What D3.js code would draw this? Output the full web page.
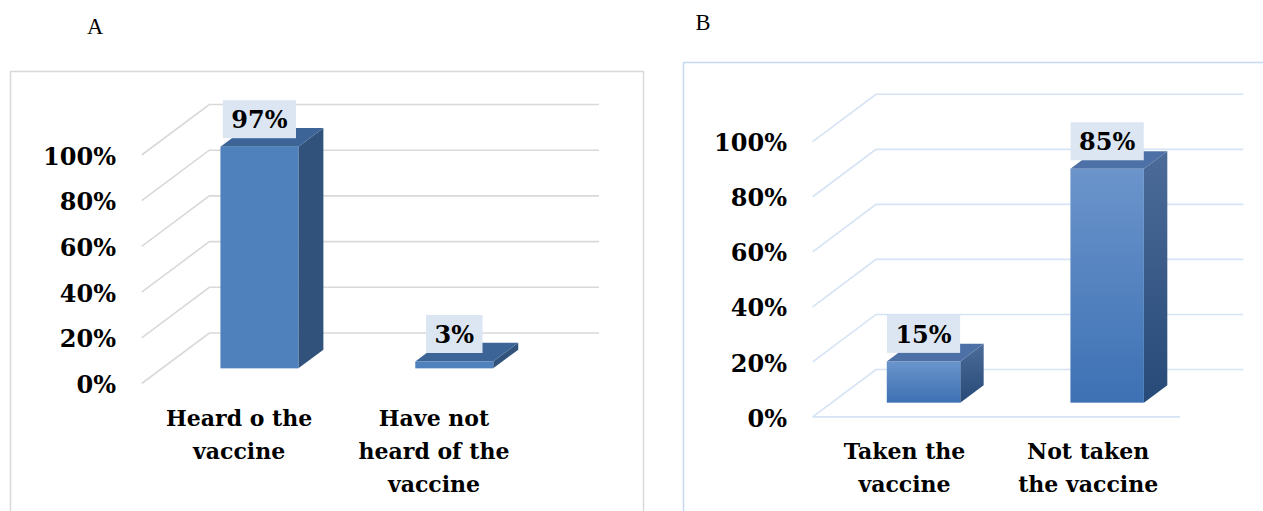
<!DOCTYPE html>
<html>
<head>
<meta charset="utf-8">
<script src="https://cdn.jsdelivr.net/npm/d3@7/dist/d3.min.js"></script>
<style>
  html, body { margin: 0; padding: 0; background: #ffffff; }
  svg { display: block; }
  .tick text, .val, .cat { font-family: "DejaVu Serif", serif; font-weight: bold; fill: #000; }
  .ttl { font-family: "Liberation Serif", serif; fill: #000; }
</style>
</head>
<body>
<svg id="chart" width="1263" height="511"></svg>
<script>
// Percent scale shared by both panels
const tickValues = [0, 20, 40, 60, 80, 100];

// Panel A: awareness of the vaccine
const titleA = "A";
const categoriesA = [["Heard o the", "vaccine"], ["Have not", "heard of the", "vaccine"]];
const valuesA = [97, 3];

// Panel B: vaccine uptake
const titleB = "B";
const categoriesB = [["Taken the", "vaccine"], ["Not taken", "the vaccine"]];
const valuesB = [15, 85];

const svg = d3.select("#chart");
const defs = svg.append("defs");

// Gradients for the shaded bars of panel B
function vGrad(id, top, bottom) {
  const g = defs.append("linearGradient").attr("id", id)
    .attr("x1", 0).attr("y1", 0).attr("x2", 0).attr("y2", 1);
  g.append("stop").attr("offset", "0%").attr("stop-color", top);
  g.append("stop").attr("offset", "100%").attr("stop-color", bottom);
}
vGrad("frontB", "#6b94cb", "#3d71b4");
vGrad("sideB", "#4c6b98", "#274a78");

function drawPanel(cfg) {
  const g = svg.append("g");

  // panel frame
  g.append("rect")
    .attr("x", cfg.frame[0]).attr("y", cfg.frame[1])
    .attr("width", cfg.frame[2]).attr("height", cfg.frame[3])
    .attr("fill", "none").attr("stroke", cfg.frameColor).attr("stroke-width", 1.5);

  // panel letter
  g.append("text").attr("class", "ttl")
    .attr("x", cfg.titlePos[0]).attr("y", cfg.titlePos[1])
    .attr("text-anchor", "middle").attr("font-size", 22.5)
    .text(cfg.title);

  // front plane scales
  const y = d3.scaleLinear().domain([0, 100]).range([cfg.y0, cfg.y100]);
  const x = d3.scaleBand().domain(d3.range(cfg.values.length))
    .range([cfg.x0, cfg.x1]).paddingInner(0.6).paddingOuter(0.3);
  const xCat = d3.scaleBand().domain(d3.range(cfg.values.length)).range([cfg.x0, cfg.x1]);
  const DX = cfg.depth[0], DY = cfg.depth[1];

  // side wall + back wall gridlines
  const grid = g.append("g");
  tickValues.forEach(t => {
    const yf = y(t);
    grid.append("path")
      .attr("d", d3.line()([[cfg.x0, yf], [cfg.x0 + DX, yf + DY], [cfg.x1 + DX, yf + DY]]))
      .attr("fill", "none").attr("stroke", cfg.gridColor).attr("stroke-width", 1.6);
  });
  if (cfg.floorLine) {
    grid.append("line")
      .attr("x1", cfg.x0).attr("x2", cfg.x1).attr("y1", y(0)).attr("y2", y(0))
      .attr("stroke", cfg.gridColor).attr("stroke-width", 1.6);
  }

  // y axis labels
  const axis = g.append("g").attr("transform", `translate(${cfg.x0},0.5)`)
    .call(d3.axisLeft(y).tickValues(tickValues).tickFormat(d => d + "%")
      .tickSize(0).tickPadding(cfg.labelPad));
  axis.select(".domain").remove();
  axis.selectAll("text").attr("font-size", 24).attr("dy", "0.36em")
    .style("font-family", '"DejaVu Serif", serif').style("font-weight", "bold").attr("fill", "#000");

  // 3D bars
  const fFront = 0.3, fBack = 0.67;
  const bx0 = fFront * DX, by0 = fFront * DY;
  const ddx = (fBack - fFront) * DX, ddy = (fBack - fFront) * DY;
  const bw = x.bandwidth();

  cfg.values.forEach((v, i) => {
    const L = x(i) + bx0, R = L + bw;
    const T = y(v) + by0, B = y(0) + by0;
    const bar = g.append("g");
    // side
    bar.append("path")
      .attr("d", d3.line()([[R, T], [R + ddx, T + ddy], [R + ddx, B + ddy], [R, B]]) + "Z")
      .attr("fill", cfg.sideFill);
    // top
    bar.append("path")
      .attr("d", d3.line()([[L, T], [L + ddx, T + ddy], [R + ddx, T + ddy], [R, T]]) + "Z")
      .attr("fill", cfg.topFill);
    // front
    bar.append("rect")
      .attr("x", L).attr("y", T).attr("width", bw).attr("height", B - T)
      .attr("fill", cfg.frontFill);

    // value label with filled box
    const cx = L + bw / 2, cy = T - 27.5;
    const lbl = g.append("g");
    const txt = lbl.append("text").attr("class", "val")
      .attr("x", cx).attr("y", cy + 9).attr("text-anchor", "middle")
      .attr("font-size", 24).text(v + "%");
    const w = txt.node().getComputedTextLength() + 17;
    lbl.insert("rect", "text")
      .attr("x", cx - w / 2).attr("y", cy - 19).attr("width", w).attr("height", 38)
      .attr("fill", "#dce6f2");
  });

  // category labels
  cfg.categories.forEach((lines, i) => {
    const t = g.append("text").attr("class", "cat")
      .attr("text-anchor", "middle").attr("font-size", 22);
    lines.forEach((ln, k) => {
      t.append("tspan").attr("x", xCat(i) + xCat.bandwidth() / 2)
        .attr("y", y(0) + 42.5 + k * 33).text(ln);
    });
  });
}

drawPanel({
  title: titleA, titlePos: [95, 33.5],
  frame: [10.5, 71.5, 633, 480], frameColor: "#d9d9d9",
  x0: 141.7, x1: 531.4, y0: 383.5, y100: 155, depth: [67.6, -50.5],
  labelPad: 25.7, gridColor: "#d9d9d9", floorLine: false,
  values: valuesA, categories: categoriesA,
  frontFill: "#4f81bd", sideFill: "#31527b", topFill: "#3c6497"
});

drawPanel({
  title: titleB, titlePos: [703, 29.5],
  frame: [683.5, 62.5, 640, 480], frameColor: "#c6d9f1",
  x0: 812.7, x1: 1180, y0: 416.9, y100: 141.7, depth: [63.3, -47.4],
  labelPad: 25.7, gridColor: "#d6e3f5", floorLine: true,
  values: valuesB, categories: categoriesB,
  frontFill: "url(#frontB)", sideFill: "url(#sideB)", topFill: "#4d71a7"
});
</script>
</body>
</html>
